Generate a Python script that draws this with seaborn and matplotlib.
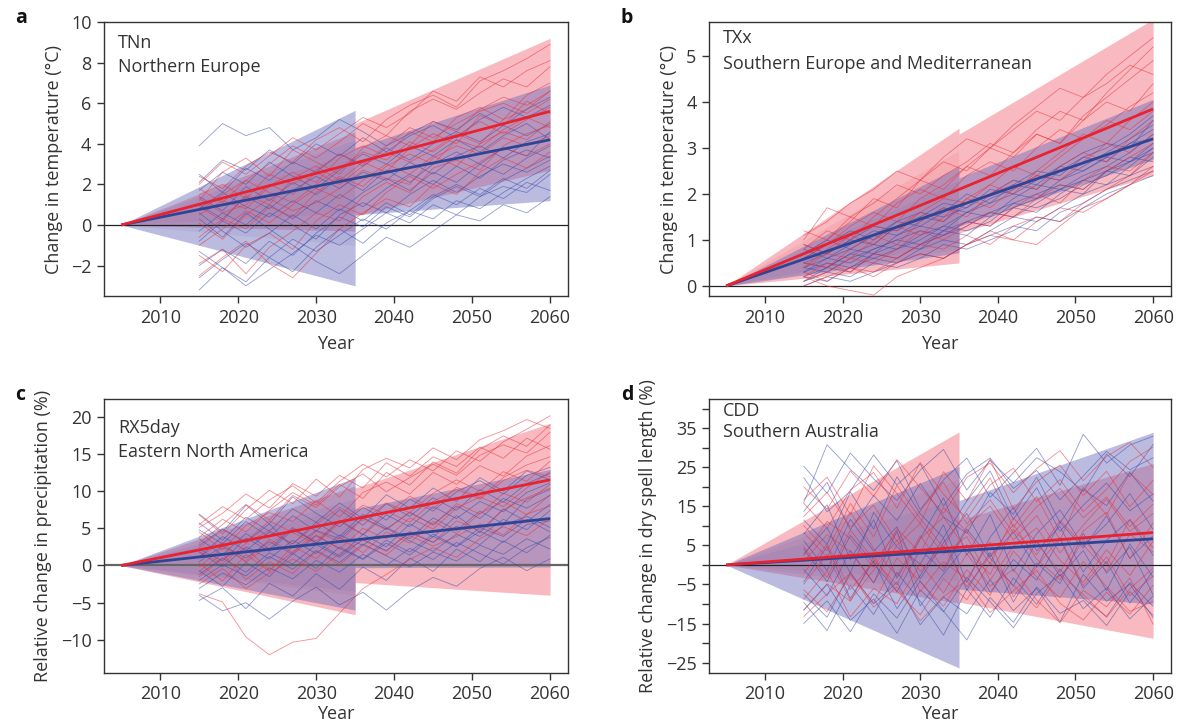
import numpy as np
import pandas as pd
import seaborn as sns
import matplotlib.pyplot as plt

# años de los miembros del ensamble (cada 3 años)
anios = [2015, 2018, 2021, 2024, 2027, 2030, 2033, 2036, 2039, 2042, 2045, 2048, 2051, 2054, 2057, 2060]
anios_tend = [2005, 2060]
anios_cerca = [2005, 2035]
anios_lejos = [2035, 2060]

# --- a: TNn Northern Europe ---
a_rojo = [
    [2.4, 1.8, 2.9, 3.6, 3.1, 4.2, 4.8, 4.1, 5.2, 5.9, 6.4, 5.8, 7.1, 7.6, 8.2, 8.9],
    [0.5, 1.2, 0.8, 1.9, 2.6, 2.1, 3.3, 3.9, 3.4, 4.6, 4.1, 5.3, 5.8, 5.2, 6.4, 7.0],
    [-1.9, -1.2, -2.4, -1.1, -0.3, 0.6, 0.2, 1.4, 2.1, 1.6, 2.8, 3.2, 2.7, 3.9, 4.5, 4.9],
    [1.2, 2.6, 3.3, 2.4, 3.7, 3.1, 2.5, 3.8, 4.4, 3.9, 5.1, 4.6, 5.7, 6.3, 5.9, 6.6],
    [-0.6, 0.3, -0.2, 0.9, 0.4, 1.6, 2.4, 1.9, 2.9, 3.5, 3.0, 4.2, 3.8, 4.7, 5.3, 4.8],
    [0.9, 0.2, 1.5, 1.0, 2.3, 2.9, 2.2, 3.1, 2.6, 3.8, 4.5, 4.0, 5.4, 4.9, 6.1, 5.5],
    [-2.5, -1.6, -0.8, -1.9, -2.6, -1.4, -0.2, 0.6, 1.3, 0.9, 2.0, 1.5, 2.6, 3.3, 2.8, 3.6],
    [1.8, 1.1, 2.2, 3.0, 3.9, 3.3, 4.1, 5.0, 4.4, 5.6, 6.2, 5.7, 6.5, 7.2, 6.8, 7.8],
    [0.1, -0.7, 0.5, 1.3, 0.7, 1.1, 1.8, 2.7, 2.3, 2.0, 3.3, 3.9, 3.5, 4.3, 3.9, 4.4],
    [1.5, 2.0, 1.3, 2.5, 2.0, 2.7, 3.5, 3.0, 3.9, 4.8, 4.3, 5.0, 5.6, 6.0, 5.5, 6.2],
    [2.0, 3.1, 2.5, 3.4, 4.3, 3.7, 4.5, 5.3, 4.8, 5.5, 6.6, 6.1, 7.3, 6.8, 7.6, 8.1],
    [-1.0, -0.2, 0.7, 0.1, 1.0, 1.8, 1.3, 2.2, 3.0, 2.5, 3.4, 2.9, 4.0, 4.6, 4.2, 5.1],
    [0.7, 1.5, 2.2, 1.6, 1.1, 2.0, 2.8, 3.6, 3.2, 4.1, 3.6, 4.4, 5.1, 4.5, 5.2, 5.8],
    [-1.5, -2.3, -1.0, -0.4, -1.2, 0.2, 1.0, 0.5, 1.6, 2.4, 1.8, 2.5, 3.1, 3.8, 3.4, 4.0],
    [1.3, 0.6, 1.0, 2.0, 1.5, 2.6, 2.0, 2.9, 3.6, 3.1, 3.7, 4.5, 4.0, 5.2, 5.7, 6.6],
]
a_azul = [
    [3.9, 5.0, 4.4, 4.8, 3.7, 4.3, 5.2, 4.6, 3.9, 4.5, 5.1, 4.7, 5.5, 4.9, 5.7, 6.3],
    [-3.2, -2.1, -2.8, -1.6, -2.3, -1.1, -0.2, -0.9, 0.1, 0.7, 0.3, 1.2, 0.8, 1.6, 2.3, 2.9],
    [1.0, 0.3, 1.4, 0.8, 1.7, 2.4, 1.8, 2.6, 2.2, 3.1, 2.5, 3.4, 3.9, 3.3, 4.1, 4.5],
    [-0.8, 0.2, -0.4, 0.6, 0.0, -0.7, 0.5, 1.1, 0.6, 1.5, 2.2, 1.6, 2.4, 3.0, 2.6, 3.2],
    [2.5, 1.6, 2.8, 2.2, 3.1, 2.6, 3.5, 2.9, 3.8, 3.2, 4.0, 4.6, 4.1, 4.9, 4.4, 5.0],
    [0.3, -0.6, 0.6, -0.2, -1.0, -1.8, -2.4, -1.5, -0.6, -1.1, -0.3, 0.5, 0.2, 1.0, 0.6, 1.4],
    [-2.0, -1.2, -1.9, -0.8, -1.5, -0.4, 0.4, -0.1, 0.9, 0.4, 1.3, 1.9, 1.4, 2.2, 2.8, 3.4],
    [1.7, 2.6, 2.0, 3.1, 2.4, 1.8, 2.7, 3.5, 3.0, 3.9, 3.4, 4.2, 3.6, 4.4, 5.0, 4.2],
    [0.8, 1.6, 0.9, 0.4, 1.2, 0.6, 1.5, 0.9, 1.8, 2.5, 2.0, 2.9, 2.3, 3.2, 3.7, 3.3],
    [-1.3, -2.1, -3.0, -2.2, -1.4, -0.5, -1.0, -0.2, 0.6, 0.1, 1.0, 0.5, 1.4, 1.9, 1.6, 2.5],
    [2.1, 3.2, 2.7, 3.7, 3.0, 4.0, 3.4, 4.3, 3.6, 4.4, 4.9, 4.3, 5.2, 5.8, 5.3, 5.9],
    [-0.3, 0.6, 0.0, 1.0, 0.3, 1.2, 0.7, 1.6, 2.3, 1.7, 2.6, 2.1, 3.0, 2.5, 3.3, 3.9],
    [0.6, -0.3, -1.1, -0.4, 0.5, -0.2, 0.8, 0.2, 1.1, 0.5, 1.4, 2.0, 1.5, 2.3, 1.8, 2.7],
    [1.4, 0.7, 1.9, 1.2, 2.1, 1.5, 2.3, 1.7, 2.7, 2.1, 3.0, 3.6, 3.0, 3.8, 3.4, 4.6],
    [-2.6, -1.7, -0.9, -1.6, -0.7, -1.3, -0.5, 0.3, -0.2, 0.7, 1.5, 1.0, 1.8, 1.3, 2.1, 1.7],
]
a_tend_rojo = [0, 5.6]
a_tend_azul = [0, 4.2]
# bandas: [inferior, superior]
a_rojo_cerca = [-0.3, 4.6]
a_rojo_cerca_in = [0.6, 3.6]
a_rojo_2035 = [0.45, 5.0]
a_rojo_2060 = [2.7, 9.2]
a_azul_cerca = [-3.0, 5.65]
a_azul_cerca_in = [-1.0, 4.2]
a_azul_2035 = [0.5, 3.8]
a_azul_2060 = [1.2, 6.9]

# --- b: TXx Southern Europe and Mediterranean ---
b_rojo = [
    [0.6, 0.9, 1.3, 1.6, 1.4, 1.9, 2.2, 2.6, 2.4, 2.9, 3.3, 3.1, 3.6, 4.0, 3.8, 4.4],
    [1.1, 1.4, 1.8, 2.1, 2.5, 2.3, 2.8, 3.2, 3.0, 3.5, 3.9, 4.3, 4.1, 4.6, 5.0, 5.4],
    [0.2, 0.0, -0.1, -0.2, 0.2, 0.4, 0.6, 0.9, 1.1, 1.0, 1.4, 1.7, 1.6, 1.9, 2.2, 2.5],
    [0.4, 0.7, 0.6, 1.0, 1.3, 1.1, 1.5, 1.9, 1.7, 2.1, 2.4, 2.3, 2.7, 3.1, 2.9, 3.3],
    [0.8, 1.2, 1.0, 1.5, 1.9, 2.3, 2.1, 2.6, 3.0, 2.8, 3.3, 3.1, 3.7, 4.1, 4.5, 4.9],
    [0.1, 0.3, 0.6, 0.5, 0.8, 1.2, 1.0, 1.3, 1.6, 1.5, 1.9, 2.2, 2.1, 2.5, 2.8, 3.1],
    [0.5, 0.4, 0.8, 1.1, 0.9, 1.4, 1.7, 1.5, 2.0, 2.3, 2.1, 2.6, 2.9, 2.7, 3.2, 3.6],
    [0.9, 0.7, 1.1, 0.9, 1.3, 1.6, 1.4, 1.9, 2.2, 2.0, 2.5, 2.9, 3.3, 3.1, 3.6, 4.0],
    [0.3, 0.1, 0.4, 0.2, 0.5, 0.7, 0.6, 0.9, 1.2, 1.0, 0.9, 1.3, 1.7, 1.9, 2.2, 2.6],
    [1.0, 1.7, 1.5, 1.8, 2.2, 2.0, 2.4, 2.7, 3.1, 2.9, 3.4, 3.8, 3.6, 4.2, 4.7, 5.2],
    [0.7, 1.0, 1.4, 1.9, 1.7, 2.3, 2.7, 2.5, 3.0, 3.4, 3.8, 3.6, 4.1, 4.4, 4.8, 4.6],
    [0.2, 0.5, 0.3, 0.7, 0.6, 0.9, 0.8, 1.1, 0.9, 1.3, 1.5, 1.4, 1.8, 2.1, 2.4, 2.9],
    [1.2, 1.0, 1.5, 1.3, 1.8, 2.1, 1.9, 2.4, 2.7, 2.5, 3.0, 3.4, 3.2, 3.6, 3.4, 3.8],
    [0.4, 0.8, 1.1, 1.3, 1.2, 1.6, 1.9, 1.8, 2.2, 2.6, 2.4, 2.8, 3.2, 3.5, 3.9, 4.2],
    [0.0, 0.2, 0.4, 0.3, 0.6, 0.9, 1.1, 1.4, 1.3, 1.7, 2.0, 1.8, 2.3, 2.6, 2.5, 2.9],
]
b_azul = [
    [0.1, 0.4, 0.3, 0.7, 0.9, 0.8, 1.2, 1.4, 1.3, 1.7, 1.9, 2.1, 2.0, 2.5, 2.7, 2.9],
    [0.5, 0.7, 1.0, 0.9, 1.3, 1.5, 1.4, 1.8, 2.0, 2.2, 2.1, 2.5, 2.8, 2.7, 3.1, 3.4],
    [0.2, 0.1, 0.4, 0.6, 0.5, 0.8, 1.0, 0.9, 1.2, 1.5, 1.4, 1.7, 2.0, 2.2, 2.4, 2.6],
    [0.8, 0.6, 0.9, 1.2, 1.1, 1.4, 1.7, 1.6, 1.9, 2.1, 2.4, 2.3, 2.6, 2.9, 3.2, 3.5],
    [0.3, 0.5, 0.4, 0.7, 0.6, 0.9, 1.2, 1.1, 1.5, 1.7, 1.6, 2.0, 2.3, 2.2, 2.6, 3.0],
    [0.6, 0.9, 1.2, 1.0, 1.4, 1.3, 1.6, 2.0, 1.8, 2.2, 2.5, 2.4, 2.8, 3.0, 3.3, 3.7],
    [0.0, 0.2, 0.1, 0.3, 0.5, 0.7, 0.6, 0.9, 1.1, 1.3, 1.2, 1.6, 1.8, 2.1, 2.3, 2.5],
    [0.4, 0.3, 0.6, 0.8, 1.0, 0.9, 1.1, 1.4, 1.6, 1.5, 1.8, 2.1, 2.3, 2.5, 2.4, 2.8],
    [0.7, 1.0, 0.8, 1.1, 1.4, 1.6, 1.5, 1.7, 2.1, 2.0, 2.3, 2.6, 2.5, 2.8, 3.1, 3.2],
    [0.2, 0.4, 0.7, 0.6, 0.8, 1.0, 1.3, 1.2, 1.4, 1.8, 1.7, 1.9, 2.2, 2.4, 2.7, 3.0],
    [0.3, 0.6, 0.8, 0.7, 1.1, 1.3, 1.2, 1.6, 1.8, 2.0, 1.9, 2.3, 2.5, 2.8, 2.7, 3.1],
    [0.5, 0.4, 0.7, 0.9, 0.8, 1.1, 1.3, 1.6, 1.5, 1.9, 2.2, 2.1, 2.4, 2.6, 2.9, 3.3],
    [0.1, 0.3, 0.2, 0.5, 0.4, 0.6, 0.9, 0.8, 1.0, 1.2, 1.5, 1.4, 1.7, 2.0, 2.2, 2.4],
    [0.9, 0.7, 1.0, 1.3, 1.2, 1.5, 1.8, 1.7, 2.0, 2.3, 2.2, 2.6, 2.9, 3.1, 3.0, 3.6],
    [0.4, 0.6, 0.5, 0.8, 1.0, 1.2, 1.1, 1.3, 1.6, 1.8, 2.0, 2.2, 2.1, 2.5, 2.8, 2.7],
]
b_tend_rojo = [0, 3.85]
b_tend_azul = [0, 3.2]
b_rojo_cerca = [0.5, 3.43]
b_rojo_cerca_in = [0.8, 2.95]
b_rojo_2035 = [1.15, 3.3]
b_rojo_2060 = [2.4, 5.8]
b_azul_cerca = [0.72, 2.6]
b_azul_cerca_in = [0.95, 2.3]
b_azul_2035 = [1.3, 2.35]
b_azul_2060 = [2.75, 4.06]

# --- c: RX5day Eastern North America ---
c_rojo = [
    [3.0, 5.5, 8.2, 6.1, 9.4, 7.8, 10.6, 12.3, 9.9, 11.8, 13.6, 12.1, 14.8, 16.2, 15.1, 17.9],
    [6.8, 4.2, 7.5, 10.1, 8.3, 11.6, 9.2, 12.9, 14.4, 13.1, 15.8, 14.2, 16.9, 18.1, 19.6, 18.4],
    [-3.8, -4.9, -9.6, -12.0, -10.3, -9.8, -6.4, -3.1, -1.2, 0.8, 2.4, 1.1, 3.6, 5.2, 4.0, 6.3],
    [1.2, 3.1, 0.4, 2.8, 4.9, 3.3, 6.1, 4.2, 7.3, 5.8, 8.6, 10.2, 8.9, 11.4, 12.8, 11.9],
    [-1.5, 0.9, 2.3, -0.6, 1.8, 4.1, 2.2, 5.0, 3.6, 6.4, 4.9, 7.7, 9.2, 7.9, 10.4, 12.6],
    [4.5, 2.1, 5.4, 7.1, 5.9, 8.7, 6.5, 9.8, 11.2, 9.6, 12.5, 10.9, 13.4, 12.0, 14.7, 16.1],
    [0.3, -2.1, 1.5, -0.8, 2.6, 0.9, 3.8, 1.7, 4.5, 3.0, 5.9, 4.3, 7.0, 8.6, 6.8, 9.5],
    [2.4, 4.8, 3.2, 6.0, 4.4, 2.9, 5.7, 8.1, 6.9, 9.3, 7.6, 10.5, 9.1, 11.8, 13.5, 14.6],
    [-0.8, 1.6, -1.9, 0.5, -1.1, 1.9, 0.1, 2.7, 1.4, 4.0, 2.6, 3.9, 5.6, 4.1, 6.9, 8.0],
    [5.5, 7.9, 6.2, 8.8, 10.7, 8.4, 11.3, 13.6, 11.9, 14.2, 12.7, 15.4, 14.0, 16.6, 18.3, 20.1],
    [3.8, 6.2, 4.5, 7.4, 9.8, 8.1, 10.9, 9.0, 12.5, 10.8, 13.9, 12.4, 15.6, 17.4, 16.0, 18.9],
    [-2.5, -0.4, -3.1, -1.0, 0.9, -0.8, 1.6, 3.4, 1.9, 4.6, 3.1, 6.0, 4.7, 7.5, 9.1, 10.4],
    [1.9, 0.2, 3.0, 4.7, 2.9, 5.5, 7.8, 6.0, 8.4, 7.1, 9.7, 11.5, 10.0, 12.6, 11.3, 14.0],
    [5.1, 7.0, 9.6, 7.7, 11.0, 9.3, 12.1, 10.4, 13.8, 12.0, 14.6, 13.3, 15.9, 14.4, 17.1, 15.6],
    [-0.2, 2.4, 0.6, 3.5, 1.7, 4.6, 3.2, 6.3, 4.8, 7.2, 5.4, 8.3, 6.9, 9.7, 8.5, 10.9],
]
c_azul = [
    [6.9, 4.5, 8.1, 5.6, 9.2, 7.0, 5.2, 7.8, 6.1, 8.9, 7.3, 9.9, 11.4, 9.6, 12.1, 13.2],
    [-4.0, -6.1, -5.0, -7.2, -4.8, -2.9, -5.3, -3.6, -6.0, -3.4, -1.6, -2.8, -0.4, 1.1, -0.7, 0.9],
    [1.8, -0.2, 2.5, 0.9, 3.4, 1.6, 4.1, 2.7, 5.0, 3.3, 1.9, 4.2, 2.8, 5.4, 6.6, 5.1],
    [-1.2, 1.0, -0.9, 1.7, 0.2, 2.8, 1.1, 3.5, 2.0, 4.4, 3.1, 5.3, 3.9, 6.2, 4.8, 7.4],
    [3.6, 1.4, 4.3, 2.2, 5.1, 3.0, 6.0, 4.1, 6.8, 5.2, 7.9, 6.3, 8.6, 7.2, 9.8, 11.1],
    [-3.1, -1.0, -2.6, -0.3, -1.8, 0.7, -0.9, 1.5, 0.0, 2.3, 0.8, 3.1, 1.6, 0.2, 2.4, 3.8],
    [0.5, 2.6, 1.0, 3.2, 1.5, 4.0, 2.3, 0.8, 3.0, 1.4, 3.9, 2.5, 4.6, 3.1, 5.5, 6.0],
    [4.8, 2.9, 5.9, 3.8, 6.7, 4.6, 7.5, 5.4, 8.3, 6.6, 9.1, 7.4, 10.2, 8.5, 11.0, 12.4],
    [-2.0, 0.1, -1.4, 1.2, -0.5, 2.0, 0.4, 2.9, 1.3, -0.2, 1.8, 0.6, 2.7, 1.5, 3.6, 2.2],
    [2.7, 4.9, 3.1, 5.6, 2.4, 4.7, 3.6, 6.4, 4.9, 7.1, 5.5, 8.0, 6.3, 9.0, 7.7, 9.4],
    [5.7, 3.4, 6.5, 4.6, 7.6, 5.8, 8.4, 6.3, 9.5, 7.7, 10.4, 8.6, 11.8, 10.0, 12.7, 11.5],
    [-0.7, -2.8, 0.4, -1.5, 1.6, -0.4, 2.5, 0.9, 3.4, 1.8, 4.2, 2.6, 5.1, 3.9, 6.2, 4.5],
    [2.2, 0.6, 3.7, 1.9, 4.8, 3.1, 1.3, 4.2, 2.5, 5.6, 3.8, 6.7, 4.4, 7.6, 5.9, 8.2],
    [-4.7, -3.0, -5.8, -2.4, -4.1, -1.1, -3.2, -0.2, -2.0, 1.0, -0.8, 2.2, 0.5, 3.3, 1.7, 4.1],
    [1.1, 3.9, 2.0, 4.5, 2.9, 5.8, 3.9, 6.9, 5.1, 3.6, 6.4, 4.7, 7.3, 5.6, 8.9, 10.2],
]
c_tend_rojo = [0, 11.5]
c_tend_azul = [0, 6.3]
c_rojo_cerca = [-6.6, 10.7]
c_rojo_cerca_in = [-4.0, 8.0]
c_rojo_2035 = [-2.3, 10.4]
c_rojo_2060 = [-4.0, 19.1]
c_azul_cerca = [-6.0, 11.8]
c_azul_cerca_in = [-3.5, 9.0]
c_azul_2035 = [-0.3, 7.6]
c_azul_2060 = [-0.2, 12.9]

# --- d: CDD Southern Australia ---
d_rojo = [
    [20.0, 14.3, 24.1, 17.6, 27.0, 19.8, 13.2, 22.4, 26.1, 18.5, 24.7, 29.3, 21.6, 27.8, 31.4, 25.0],
    [4.6, -3.2, 8.9, 1.4, -5.1, 6.7, 12.3, 3.8, -2.4, 9.1, 2.6, 11.4, 5.2, -1.6, 7.9, 3.3],
    [-11.5, -4.8, -9.3, 2.1, -6.7, -12.8, -3.5, -8.9, 0.6, -5.2, -11.0, -2.3, -7.6, -13.4, -6.1, -0.8],
    [12.4, 18.6, 9.7, 15.3, 6.1, 13.8, 21.2, 10.5, 16.7, 8.2, 14.9, 19.6, 12.1, 17.4, 9.8, 15.6],
    [-2.1, 5.4, -6.3, 0.8, 8.2, -1.7, 4.9, -5.6, 2.3, 10.4, 1.5, -3.8, 6.6, 0.2, 11.7, 4.4],
    [8.3, 1.9, 13.6, 4.2, -2.8, 7.5, -0.9, 9.8, 15.1, 6.4, 12.7, 3.1, 10.2, 16.9, 8.6, 13.2],
    [-6.4, -12.0, -2.5, -9.7, 1.8, -4.3, -10.6, -1.2, -7.8, 3.6, -3.1, -8.4, 0.9, -5.5, -11.9, -9.3],
    [15.8, 9.4, 19.2, 23.7, 14.6, 26.3, 18.1, 11.9, 20.5, 24.8, 16.2, 21.9, 13.7, 19.4, 26.5, 30.2],
    [0.9, 7.8, 3.4, -4.6, 5.1, 10.6, 2.7, 7.3, -3.9, 4.8, 9.5, 1.2, -4.4, 3.9, -2.7, 6.1],
    [-8.8, -1.5, -13.3, -6.0, -9.9, 0.4, -7.2, 2.9, -5.4, -1.1, -9.0, -14.8, -6.5, -10.7, -3.3, -15.2],
    [10.1, 3.6, 15.8, 7.2, 20.4, 11.9, 4.5, 14.1, 22.3, 9.7, 17.5, 6.3, 19.9, 12.8, 23.6, 18.0],
    [-4.9, 2.7, -9.1, -1.3, 6.4, -6.8, 0.8, -3.6, 5.9, -8.2, -0.5, 7.1, -5.3, 2.1, -7.9, -2.8],
    [16.8, 22.5, 12.9, 25.4, 18.3, 10.6, 23.9, 16.4, 27.1, 14.2, 21.3, 25.6, 17.8, 24.0, 14.9, 21.7],
    [-13.2, -7.4, -2.1, -10.8, -5.6, -14.3, -8.1, -3.9, -12.2, -6.6, -1.4, -9.8, -14.1, -7.0, -12.6, -5.2],
    [2.4, 11.2, 6.8, -0.7, 9.3, 3.1, 14.7, 8.5, 0.4, 12.0, 5.8, -1.9, 8.7, 13.5, 1.6, 10.8],
]
d_azul = [
    [16.0, 30.8, 24.5, 19.1, 26.7, 14.2, 21.8, 27.4, 17.3, 23.6, 29.9, 20.4, 33.5, 26.1, 30.7, 33.0],
    [-15.0, -9.2, -17.1, -7.4, -13.6, -4.1, -11.8, -19.2, -8.3, -14.7, -5.6, -12.4, -9.1, -15.5, -6.8, -12.9],
    [6.2, -1.4, 11.7, 3.5, 9.8, -3.6, 5.7, 13.2, 2.1, 8.4, -0.6, 10.9, 4.3, 12.6, 1.7, 7.5],
    [-4.3, 4.8, -8.6, 1.1, -11.2, -2.7, 6.9, -6.4, 3.2, -9.5, 0.5, -4.8, 8.1, -2.1, 4.6, -7.7],
    [11.5, 5.3, 18.7, 9.2, 22.6, 13.1, 7.0, 16.4, 24.1, 11.7, 19.8, 8.6, 15.3, 21.0, 13.9, 18.2],
    [-9.6, -16.8, -5.2, -12.7, -1.9, -9.3, -18.0, -6.2, -13.4, -3.3, -10.1, -1.0, -8.5, -13.2, -4.5, -10.6],
    [2.8, 9.6, -2.1, 13.5, 4.6, 0.2, 10.3, -4.5, 7.1, 14.8, 3.6, 9.9, -1.8, 6.3, 11.6, 2.4],
    [22.4, 13.6, 18.9, 28.2, 20.5, 25.9, 15.1, 23.3, 27.4, 19.6, 24.2, 16.7, 22.8, 29.1, 24.4, 27.5],
    [-1.2, -7.9, 3.7, -4.6, 8.8, -10.5, -2.3, 5.2, -7.1, 1.4, -3.9, 6.7, -6.0, 0.9, -9.8, -1.5],
    [7.9, 15.4, 1.3, 11.6, -3.4, 6.8, 17.2, 2.5, 12.9, -1.7, 8.0, 14.1, 4.9, 10.5, 18.3, 9.1],
    [25.3, 18.4, 28.7, 22.1, 16.5, 24.3, 29.6, 19.2, 26.8, 21.0, 27.5, 23.9, 18.8, 28.4, 22.6, 30.9],
    [-11.6, -5.0, -14.2, -8.7, -17.5, -6.4, -12.0, -3.2, -9.4, -16.1, -7.3, -2.5, -11.2, -5.9, -13.8, -8.0],
    [4.1, -4.3, 7.6, 0.5, -6.9, 3.9, -1.6, 9.2, 1.8, -5.4, 6.2, -2.9, 3.7, -6.6, 5.4, -3.1],
    [13.7, 21.2, 9.0, 17.8, 11.4, 20.9, 12.3, 8.1, 18.6, 13.0, 22.5, 10.8, 19.4, 15.2, 23.7, 16.3],
    [-7.5, -13.4, -1.9, -10.0, -4.4, -15.3, -8.2, -12.5, -3.8, -11.7, -6.0, -14.6, -2.4, -9.3, -4.9, -13.5],
]
d_tend_rojo = [0, 8.3]
d_tend_azul = [0, 6.7]
d_rojo_cerca = [-9.8, 34.1]
d_rojo_cerca_in = [-4.0, 22.0]
d_rojo_2035 = [-9.5, 11.5]
d_rojo_2060 = [-18.8, 26.0]
d_azul_cerca = [-26.4, 25.2]
d_azul_cerca_in = [-7.0, 17.0]
d_azul_2035 = [-6.2, 16.5]
d_azul_2060 = [-10.0, 34.0]

# textos
letras = ["a", "b", "c", "d"]
indices = ["TNn", "TXx", "RX5day", "CDD"]
regiones = ["Northern Europe", "Southern Europe and Mediterranean", "Eastern North America", "Southern Australia"]
etiquetas_y = ["Change in temperature (°C)", "Change in temperature (°C)",
               "Relative change in precipitation (%)", "Relative change in dry spell length (%)"]

paneles = [
    dict(rojo=a_rojo, azul=a_azul, tr=a_tend_rojo, ta=a_tend_azul,
         rc=a_rojo_cerca, rci=a_rojo_cerca_in, r35=a_rojo_2035, r60=a_rojo_2060,
         ac=a_azul_cerca, aci=a_azul_cerca_in, a35=a_azul_2035, a60=a_azul_2060,
         ylim=(-3.5, 10.0), yticks=list(range(-2, 11, 2)), pos=[0.0882, 0.5928, 0.3936, 0.3769],
         ty=(0.923, 0.836)),
    dict(rojo=b_rojo, azul=b_azul, tr=b_tend_rojo, ta=b_tend_azul,
         rc=b_rojo_cerca, rci=b_rojo_cerca_in, r35=b_rojo_2035, r60=b_rojo_2060,
         ac=b_azul_cerca, aci=b_azul_cerca_in, a35=b_azul_2035, a60=b_azul_2060,
         ylim=(-0.22, 5.74), yticks=list(range(0, 6)), pos=[0.6014, 0.5928, 0.3918, 0.3769],
         ty=(0.94, 0.847)),
    dict(rojo=c_rojo, azul=c_azul, tr=c_tend_rojo, ta=c_tend_azul,
         rc=c_rojo_cerca, rci=c_rojo_cerca_in, r35=c_rojo_2035, r60=c_rojo_2060,
         ac=c_azul_cerca, aci=c_azul_cerca_in, a35=c_azul_2035, a60=c_azul_2060,
         ylim=(-14.4, 22.4), yticks=list(range(-10, 21, 5)), pos=[0.0882, 0.0747, 0.3936, 0.3769],
         ty=(0.893, 0.805)),
    dict(rojo=d_rojo, azul=d_azul, tr=d_tend_rojo, ta=d_tend_azul,
         rc=d_rojo_cerca, rci=d_rojo_cerca_in, r35=d_rojo_2035, r60=d_rojo_2060,
         ac=d_azul_cerca, aci=d_azul_cerca_in, a35=d_azul_2035, a60=d_azul_2060,
         ylim=(-27.6, 42.6), yticks=list(range(-25, 41, 5)), pos=[0.6014, 0.0747, 0.3918, 0.3769],
         ty=(0.955, 0.88)),
]

sns.set_theme(style="ticks")
plt.rcParams['font.family'] = ['Open Sans', 'DejaVu Sans']
gris = "#333333"

relleno_rojo = "#ef4a5a"
relleno_azul = "#6a6ab8"
linea_roja = "#e8303c"
linea_azul = "#3a4aa8"

fig = plt.figure(figsize=(11.79, 7.27), dpi=100)

for i, p in enumerate(paneles):
    ax = fig.add_axes(p["pos"])

    # bandas cercanas (2005-2035) y lejanas (2035-2060)
    for lo_hi, col, al in [(p["rc"], relleno_rojo, 0.38), (p["rci"], relleno_rojo, 0.12)]:
        ax.fill_between(anios_cerca, [0, lo_hi[0]], [0, lo_hi[1]], color=col, alpha=al, lw=0)
    ax.fill_between(anios_lejos, [p["r35"][0], p["r60"][0]], [p["r35"][1], p["r60"][1]],
                    color=relleno_rojo, alpha=0.38, lw=0)
    for lo_hi, col, al in [(p["ac"], relleno_azul, 0.45), (p["aci"], relleno_azul, 0.12)]:
        ax.fill_between(anios_cerca, [0, lo_hi[0]], [0, lo_hi[1]], color=col, alpha=al, lw=0)
    ax.fill_between(anios_lejos, [p["a35"][0], p["a60"][0]], [p["a35"][1], p["a60"][1]],
                    color=relleno_azul, alpha=0.45, lw=0)

    ax.axhline(0, color="#222222" if i != 2 else "#666666", lw=0.9 if i != 2 else 1.6, zorder=2)

    # miembros del ensamble
    filas = []
    for esc, miembros in [("azul", p["azul"]), ("rojo", p["rojo"])]:
        for m, serie in enumerate(miembros):
            for yr, v in zip(anios, serie):
                filas.append({"year": yr, "valor": v, "miembro": f"{esc}{m}", "escenario": esc})
    df = pd.DataFrame(filas)
    sns.lineplot(data=df, x="year", y="valor", hue="escenario", units="miembro", estimator=None,
                 palette={"rojo": linea_roja, "azul": linea_azul}, lw=0.6, alpha=0.55,
                 legend=False, ax=ax, zorder=3)

    # tendencias
    ax.plot(anios_tend, p["ta"], color="#2e4595", lw=2, zorder=4, solid_capstyle="butt")
    ax.plot(anios_tend, p["tr"], color="#e8222e", lw=2, zorder=5, solid_capstyle="butt")

    ax.set_xlim(2002.8, 2062.3)
    ax.set_ylim(*p["ylim"])
    ax.set_xticks([2010, 2020, 2030, 2040, 2050, 2060])
    ax.set_yticks(p["yticks"])
    if i == 3:
        ax.set_yticklabels([str(t) if (t % 10 != 0) else "" for t in p["yticks"]])
    ax.set_yticklabels([t.get_text().replace("-", "\u2212") for t in ax.get_yticklabels()])
    ax.tick_params(direction="out", length=5, width=1, color=gris, labelcolor=gris,
                   labelsize=13, pad=4)
    for s in ax.spines.values():
        s.set_color(gris)
        s.set_linewidth(1)
    ax.set_xlabel("Year", fontsize=13, color=gris, labelpad=6 if i < 2 else 1)
    ax.set_ylabel(etiquetas_y[i], fontsize=13, color=gris, labelpad=6)

    ax.text(0.03, p["ty"][0], indices[i], transform=ax.transAxes, fontsize=13,
            color=gris, va="center", ha="left")
    ax.text(0.03, p["ty"][1], regiones[i], transform=ax.transAxes, fontsize=13,
            color=gris, va="center", ha="left")

    bx = p["pos"][0] - 0.075
    by = p["pos"][1] + p["pos"][3] + 0.005
    fig.text(bx, by, letras[i], fontsize=14, fontweight="bold", color="#111111",
             ha="left", va="center")

fig.savefig("out.png", dpi=100)
